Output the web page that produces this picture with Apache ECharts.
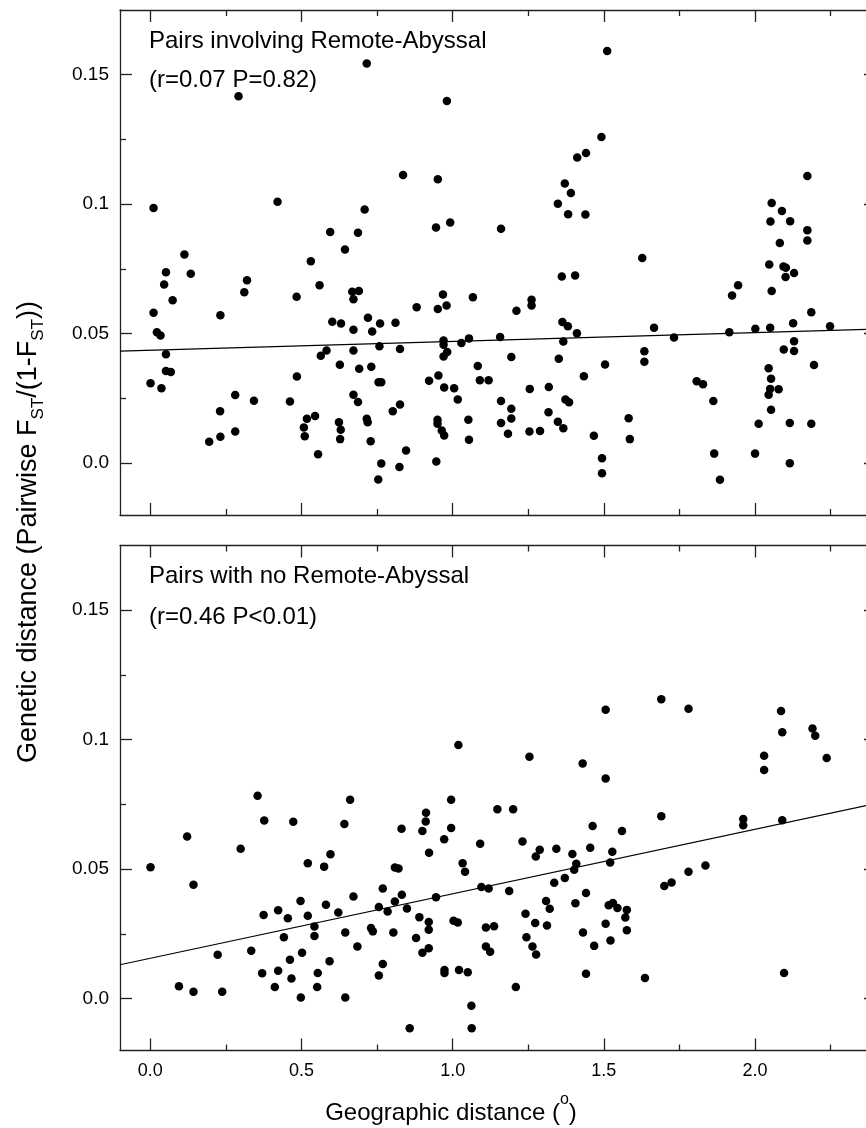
<!DOCTYPE html>
<html>
<head>
<meta charset="utf-8">
<title>Genetic vs geographic distance</title>
<script src="https://cdn.jsdelivr.net/npm/echarts@6/dist/echarts.min.js"></script>
<style>
  html, body { margin: 0; padding: 0; background: #fff; }
  #chart { width: 866px; height: 1128px; }
</style>
</head>
<body>
<div id="chart"></div>
<script>
// ---- data: [geographic distance (deg), FST/(1-FST)] ----
const remotePairs = [
  [0.011,0.0985],[0.292,0.1417],[0.421,0.101],[0.716,0.1543],[0.836,0.1113],[0.951,0.1096],[0.981,0.1399],[0.709,0.098],
  [0.595,0.0893],[0.687,0.089],[0.945,0.091],[0.992,0.0929],[0.644,0.0825],[0.113,0.0806],[1.160,0.0905],[0.531,0.078],
  [1.511,0.1592],[1.492,0.126],[1.412,0.118],[1.441,0.1198],[1.371,0.108],[1.391,0.1043],[1.348,0.1002],[1.382,0.0961],
  [1.439,0.096],[1.627,0.0792],[2.173,0.1109],[2.055,0.1005],[2.089,0.0974],[2.051,0.0933],[2.116,0.0934],[2.082,0.085],
  [2.173,0.09],[2.173,0.086],
  [0.052,0.0737],[0.134,0.0732],[0.046,0.069],[0.32,0.0706],[0.311,0.066],[0.56,0.0687],[0.074,0.0629],[0.484,0.0643],
  [0.668,0.0662],[0.69,0.0665],[0.672,0.0633],[0.011,0.0581],[0.232,0.0571],[0.602,0.0546],[0.631,0.0539],[0.672,0.0515],
  [0.72,0.0562],[0.734,0.0509],[0.76,0.0539],[0.811,0.0542],[0.881,0.0602],[0.951,0.0595],[0.968,0.0651],[0.98,0.0609],
  [1.067,0.0641],[0.022,0.0506],[0.034,0.0493],[0.052,0.0421],[0.052,0.0356],[0.068,0.0352],[0.001,0.0309],[0.037,0.0289],
  [0.564,0.0415],[0.583,0.0435],[0.672,0.0435],[0.627,0.038],[0.691,0.0365],[0.731,0.0372],[0.758,0.0452],[0.826,0.0441],
  [0.97,0.0474],[0.97,0.0457],[0.982,0.0429],[0.97,0.0412],[1.029,0.0464],[1.054,0.0482],[1.157,0.0487],[1.083,0.0375],
  [1.09,0.032],[1.119,0.032],[0.485,0.0335],[0.755,0.0313],[0.764,0.0313],[0.922,0.0318],[0.953,0.0339],[0.972,0.0292],
  [1.005,0.0289],[1.017,0.0246],[0.281,0.0263],[0.343,0.0241],[0.462,0.0238],[0.672,0.0264],[0.687,0.0236],[0.231,0.0201],
  [0.518,0.0172],[0.545,0.0182],[0.508,0.0138],[0.511,0.0104],[0.624,0.0158],[0.63,0.0129],[0.628,0.0093],[0.716,0.0172],
  [0.719,0.0158],[0.729,0.0085],[0.802,0.0201],[0.826,0.0227],[0.846,0.0049],[0.824,-0.0015],[0.764,-0.0001],[0.754,-0.0063],
  [0.555,0.0035],[0.281,0.0122],[0.232,0.0102],[0.195,0.0083],[0.95,0.0168],[0.95,0.0152],[0.964,0.0126],[0.972,0.0107],
  [1.052,0.0168],[1.054,0.0091],[0.946,0.0007],[1.16,0.024],[1.16,0.0155],
  [1.361,0.0721],[1.405,0.0725],[1.261,0.0631],[1.261,0.0609],[1.211,0.0589],[1.363,0.0545],[1.381,0.0529],[1.411,0.0502],
  [1.366,0.047],[1.194,0.041],[1.351,0.0403],[1.504,0.0381],[1.434,0.0336],[1.255,0.0287],[1.318,0.0294],[1.194,0.021],
  [1.194,0.0173],[1.183,0.0114],[1.254,0.0122],[1.289,0.0124],[1.317,0.0197],[1.348,0.016],[1.366,0.0135],[1.373,0.0246],
  [1.385,0.0235],[1.467,0.0106],[1.494,0.0019],[1.494,-0.0039],[1.582,0.0174],[1.586,0.0093],[1.634,0.0432],[1.634,0.0392],
  [1.666,0.0523],[1.732,0.0485],[1.807,0.0316],[1.828,0.0305],[1.862,0.024],[1.865,0.0037],[1.884,-0.0064],[1.924,0.0648],
  [1.944,0.0687],[1.915,0.0506],[2.001,0.0519],[2.012,0.0152],[2.0,0.0037],[2.047,0.0767],[2.055,0.0665],[2.094,0.076],
  [2.102,0.0755],[2.101,0.0719],[2.129,0.0734],[2.05,0.0523],[2.126,0.054],[2.186,0.0583],[2.248,0.0529],[2.129,0.0471],
  [2.095,0.0439],[2.129,0.0433],[2.195,0.0379],[2.045,0.0367],[2.053,0.0326],[2.05,0.0287],[2.078,0.0286],[2.045,0.0264],
  [2.053,0.0206],[2.115,0.0155],[2.186,0.0152],[2.115,0.0]
];

const otherPairs = [
  [1.019,0.098],[1.254,0.0934],[1.43,0.0908],[1.506,0.085],[1.506,0.1116],[1.69,0.1156],[1.78,0.112],[2.086,0.1111],
  [2.09,0.1029],[2.19,0.1043],[2.199,0.1015],[2.03,0.0938],[2.03,0.0883],[2.237,0.0929],
  [0.355,0.0784],[0.661,0.0768],[0.995,0.0768],[1.148,0.0732],[0.377,0.0688],[0.473,0.0683],[0.642,0.0675],[0.912,0.0718],
  [0.911,0.0684],[0.831,0.0656],[0.9,0.0648],[0.995,0.0659],[0.122,0.0626],[0.972,0.0616],[1.091,0.0598],[0.299,0.0579],
  [0.922,0.0564],[0.596,0.0558],[0.521,0.0523],[0.575,0.051],[0.809,0.0507],[0.821,0.0503],[1.033,0.0523],[1.041,0.049],
  [0.001,0.0508],[0.143,0.044],[0.769,0.0426],[1.095,0.0431],[1.119,0.0426],[0.832,0.0401],[0.672,0.0395],[0.945,0.0392],
  [0.809,0.0375],[0.497,0.0377],[0.581,0.0363],[0.756,0.0354],[0.849,0.0348],[0.423,0.0342],[0.785,0.0337],[0.622,0.0333],
  [0.375,0.0323],[0.521,0.032],[0.89,0.0315],[0.455,0.0311],[0.921,0.0296],[1.003,0.0301],[1.017,0.0294],[0.543,0.0279],
  [0.73,0.0273],[0.736,0.026],[0.921,0.0266],[1.11,0.0275],[1.137,0.028],[0.645,0.0256],[0.804,0.0256],[0.543,0.0242],
  [0.442,0.0237],[0.879,0.0234],[0.685,0.0202],[0.921,0.0195],[1.11,0.0202],[1.124,0.0181],[0.9,0.0177],[0.334,0.0185],
  [0.502,0.0177],[0.223,0.017],[0.462,0.015],[0.593,0.0145],[0.769,0.0134],[0.37,0.0098],[0.423,0.0108],[0.554,0.0099],
  [0.756,0.009],[0.467,0.0078],[0.973,0.0111],[0.973,0.0099],[1.021,0.0111],[1.05,0.0102],[0.095,0.0048],[0.143,0.0027],
  [0.238,0.0027],[0.412,0.0045],[0.552,0.0045],[0.498,0.0005],[0.645,0.0005],[1.062,-0.0027],[1.063,-0.0114],[0.858,-0.0114],
  [1.2,0.0732],[1.69,0.0705],[1.961,0.0694],[1.961,0.067],[2.09,0.0689],[1.463,0.0667],[1.56,0.0648],[1.231,0.0607],
  [1.288,0.0575],[1.275,0.0549],[1.343,0.0579],[1.396,0.0559],[1.455,0.0583],[1.528,0.0567],[1.409,0.0521],[1.402,0.0498],
  [1.521,0.0526],[1.371,0.0466],[1.336,0.0448],[1.187,0.0416],[1.441,0.0408],[1.7,0.0435],[1.724,0.0449],[1.78,0.049],
  [1.836,0.0514],[1.309,0.0377],[1.321,0.0347],[1.406,0.0369],[1.516,0.0361],[1.53,0.037],[1.545,0.035],[1.576,0.0343],
  [1.571,0.0314],[1.576,0.0264],[1.241,0.0328],[1.273,0.0292],[1.312,0.0283],[1.506,0.0289],[1.431,0.0256],[1.244,0.0237],
  [1.264,0.0202],[1.276,0.0171],[1.468,0.0204],[1.522,0.0225],[1.441,0.0096],[1.636,0.008],[2.096,0.0099],[1.209,0.0045]
];

// regression lines, end points at the plot edges
const remoteFit = [[-0.1, 0.0433], [2.4, 0.0518]];
const otherFit = [[-0.1, 0.0131], [2.4, 0.0754]];

// axis ranges and ticks
const xRange = [-0.1, 2.4];
const yRange = [-0.02, 0.175];
const xMajorTicks = [0, 0.5, 1, 1.5, 2];
const xMinorTicks = [0.25, 0.75, 1.25, 1.75, 2.25];
const yMajorTicks = [0, 0.05, 0.1, 0.15];
const yMinorTicks = [0.025, 0.075, 0.125];
const yTickLabels = ['0.0', '0.05', '0.1', '0.15'];

const panelTitles = [
  ['Pairs involving Remote-Abyssal', '(r=0.07 P=0.82)'],
  ['Pairs with no Remote-Abyssal', '(r=0.46 P<0.01)']
];

const FONT = '"Liberation Sans", Arial, Helvetica, sans-serif';
const INK = '#222';

let chart = echarts.init(document.getElementById('chart'), null, { renderer: 'canvas' });

// one axis = one set of ticks (major or minor) on one side of a panel
let makeAxis = (gridIndex, position, ticks, len, opts) => {
  let isX = position === 'top' || position === 'bottom';
  let range = isX ? xRange : yRange;
  return Object.assign({
    type: 'value',
    gridIndex: gridIndex,
    position: position,
    min: range[0],
    max: range[1],
    axisLine: { show: false, onZero: false, lineStyle: { color: INK, width: 1.3 } },
    axisTick: { show: true, inside: true, length: len, customValues: ticks, lineStyle: { color: INK, width: 1.3 } },
    axisLabel: { show: false },
    splitLine: { show: false },
    minorTick: { show: false }
  }, opts || {});
};

let xAxes = [];
let yAxes = [];
[0, 1].forEach((g) => {
  let showX = g === 1;
  xAxes.push(
    makeAxis(g, 'bottom', xMajorTicks, 12, {
      axisLine: { show: true, onZero: false, lineStyle: { color: INK, width: 1.3 } },
      axisLabel: {
        show: showX,
        customValues: xMajorTicks,
        margin: 12,
        color: '#000',
        fontFamily: FONT,
        fontSize: 18,
        formatter: (v) => v.toFixed(1)
      }
    }),
    makeAxis(g, 'bottom', xMinorTicks, 6),
    makeAxis(g, 'top', xMajorTicks, 12, {
      axisLine: { show: true, onZero: false, lineStyle: { color: INK, width: 1.3 } }
    }),
    makeAxis(g, 'top', xMinorTicks, 6)
  );
  yAxes.push(
    makeAxis(g, 'left', yMajorTicks, 12, {
      axisLine: { show: true, onZero: false, lineStyle: { color: INK, width: 1.3 } },
      axisLabel: {
        show: true,
        customValues: yMajorTicks,
        margin: 11,
        color: '#000',
        fontFamily: FONT,
        fontSize: 19,
        formatter: (v) => yTickLabels[yMajorTicks.findIndex((t) => Math.abs(t - v) < 1e-9)]
      }
    }),
    makeAxis(g, 'left', yMinorTicks, 6),
    makeAxis(g, 'right', yMajorTicks, 12, {
      axisLine: { show: true, onZero: false, lineStyle: { color: INK, width: 1.3 } }
    }),
    makeAxis(g, 'right', yMinorTicks, 6)
  );
});

let pointSeries = (pairs, axisIndex) => ({
  type: 'scatter',
  xAxisIndex: axisIndex,
  yAxisIndex: axisIndex,
  data: pairs,
  symbol: 'circle',
  symbolSize: 8.5,
  itemStyle: { color: '#000', opacity: 1 },
  silent: true,
  z: 3
});

let fitSeries = (pairs, axisIndex) => ({
  type: 'line',
  xAxisIndex: axisIndex,
  yAxisIndex: axisIndex,
  data: pairs,
  showSymbol: false,
  lineStyle: { color: '#000', width: 1.2 },
  silent: true,
  z: 2
});

let panelText = (x, y, text) => ({
  type: 'text',
  x: x,
  y: y,
  style: {
    text: text,
    font: '24px ' + FONT,
    fill: '#000',
    align: 'left',
    textAlign: 'left',
    verticalAlign: 'middle',
    textVerticalAlign: 'middle'
  }
});

let options = {
  animation: false,
  backgroundColor: '#fff',
  grid: [
    { left: 120, top: 10, width: 756, height: 505, outerBoundsMode: 'none', containLabel: false },
    { left: 120, top: 545.5, width: 756, height: 505, outerBoundsMode: 'none', containLabel: false }
  ],
  xAxis: xAxes,
  yAxis: yAxes,
  series: [
    pointSeries(remotePairs, 0),
    fitSeries(remoteFit, 0),
    pointSeries(otherPairs, 4),
    fitSeries(otherFit, 4)
  ],
  graphic: [
    panelText(149, 41, panelTitles[0][0]),
    panelText(149, 80, panelTitles[0][1]),
    panelText(149, 576, panelTitles[1][0]),
    panelText(149, 617, panelTitles[1][1]),
    {
      // x axis title with superscript degree mark
      type: 'text',
      x: 451,
      y: 1113,
      style: {
        text: '{n|Geographic distance (}{sup|o}{n|)}',
        fill: '#000',
        align: 'center',
        textAlign: 'center',
        verticalAlign: 'middle',
        textVerticalAlign: 'middle',
        rich: {
          n: { fontFamily: FONT, fontSize: 24, lineHeight: 42, verticalAlign: 'middle', color: '#000' },
          sup: { fontFamily: FONT, fontSize: 16, lineHeight: 16, verticalAlign: 'top', color: '#000' }
        }
      }
    },
    {
      // y axis title, rotated, with subscripts
      type: 'text',
      x: 29,
      y: 532,
      rotation: Math.PI / 2,
      style: {
        text: '{n|Genetic distance (Pairwise F}{s|ST}{n|/(1-F}{s|ST}{n|))}',
        fill: '#000',
        align: 'center',
        textAlign: 'center',
        verticalAlign: 'middle',
        textVerticalAlign: 'middle',
        rich: {
          n: { fontFamily: FONT, fontSize: 27, lineHeight: 36, verticalAlign: 'middle', color: '#000' },
          s: { fontFamily: FONT, fontSize: 17, lineHeight: 17, verticalAlign: 'bottom', color: '#000' }
        }
      }
    }
  ]
};

chart.setOption(options);
</script>
</body>
</html>
